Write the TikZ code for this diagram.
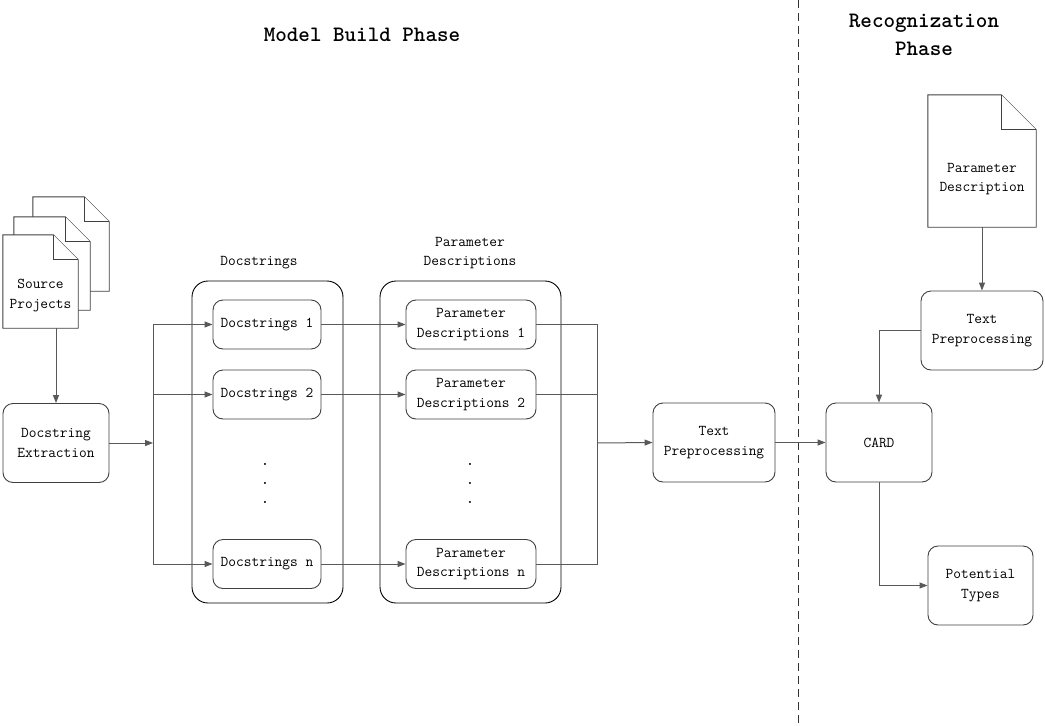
\documentclass[tikz,border=0pt]{standalone}
\usetikzlibrary{arrows.meta}
\definecolor{linec}{gray}{0.35}
\definecolor{boxc}{gray}{0.25}
\newcommand\bodyf{\fontsize{15}{19.5}\selectfont\ttfamily}
\newcommand\titlef{\fontsize{22}{28}\selectfont\ttfamily\bfseries}
\newcommand\mydoc[2]{%
  \draw[docline] (#1.south west) -- (#1.north west) -- ([xshift=-#2]#1.north east)
     -- ([yshift=-#2]#1.north east) -- (#1.south east) -- cycle;
  \draw[docline] ([xshift=-#2]#1.north east) -- ([xshift=-#2,yshift=-#2]#1.north east)
     -- ([yshift=-#2]#1.north east);}
\tikzset{
  box/.style={draw=boxc, line width=0.9pt, rounded corners=10pt, align=center,
    font=\bodyf, inner sep=0pt},
  docnode/.style={inner sep=0pt, align=center, font=\bodyf},
  docline/.style={draw=boxc, line width=0.9pt, fill=white},
  cont/.style={draw=black, line width=0.9pt, rounded corners=16pt, inner sep=0pt},
  lbl/.style={align=center, font=\bodyf, inner sep=0pt},
  conn/.style={draw=linec, line width=1pt},
  arr/.style={conn, -{Triangle[length=8pt,width=6pt]}},
}
\begin{document}
\begin{tikzpicture}[x=1pt,y=-1pt]
\useasboundingbox[fill=white] (0,0) rectangle (1045,726);

% titles
\node[font=\titlef] (t1) at (362,35) {Model Build Phase};
\node[font=\titlef, align=center] (t2) at (924,34.5) {Recognization\\Phase};

% dashed separator
\coordinate (dtop) at (798,0);
\coordinate (dbot) at (798,726);
\draw[draw=black!80, line width=0.9pt, dash pattern=on 8pt off 5pt] (dtop) -- (dbot);

% containers
\node[cont, minimum width=151, minimum height=322] (cd) at (267.5,442) {};
\node[cont, minimum width=181, minimum height=322] (cp) at (470.5,442) {};
\node[lbl] (cdl) at (259,263) {Docstrings};
\node[lbl] (cpl) at (470,253) {Parameter\\Descriptions};

% source projects (stack of documents)
\node[docnode, minimum width=76, minimum height=94] (src3) at (71,244) {};
\node[docnode, minimum width=76, minimum height=93] (src2) at (52,263.5) {};
\node[docnode, minimum width=75, minimum height=93] (src) at (40.5,281.5) {};
\mydoc{src3}{25}
\mydoc{src2}{25}
\mydoc{src}{25}
\node[lbl] (srct) at ([yshift=-14]src.center) {Source\\Projects};

% model build boxes
\node[box, minimum width=106, minimum height=79] (ext) at (56,443) {Docstring\\Extraction};
\node[box, minimum width=108, minimum height=49] (d1) at (267,324.5) {Docstrings 1};
\node[box, minimum width=108, minimum height=49] (d2) at (267,394.5) {Docstrings 2};
\node[box, minimum width=108, minimum height=49] (dn) at (267,564) {Docstrings n};
\node[box, minimum width=130, minimum height=49] (p1) at (471,324.5) {Parameter\\Descriptions 1};
\node[box, minimum width=130, minimum height=49] (p2) at (471,394.5) {Parameter\\Descriptions 2};
\node[box, minimum width=130, minimum height=49] (pn) at (471,564) {Parameter\\Descriptions n};
\node[lbl, font=\fontsize{15}{19}\selectfont\ttfamily\bfseries] (dd) at (265,483) {.\\.\\.};
\node[lbl, font=\fontsize{15}{19}\selectfont\ttfamily\bfseries] (pdd) at (470,483) {.\\.\\.};
\node[box, minimum width=122, minimum height=79] (tp) at (714,442.5) {Text\\Preprocessing};

% recognition boxes
\node[box, minimum width=106, minimum height=79] (card) at (879,442.5) {CARD};
\node[docnode, minimum width=108, minimum height=132] (pd) at (982,161) {};
\mydoc{pd}{35}
\node[lbl] (pdt) at ([yshift=-18]pd.center) {Parameter\\Description};
\node[box, minimum width=122, minimum height=79] (tp2) at (982,330.5) {Text\\Preprocessing};
\node[box, minimum width=105, minimum height=79] (pt) at (980.5,585.5) {Potential\\Types};

% connectors
\coordinate (split) at (153,443);
\coordinate (merge) at (597,443);
\draw[arr] (ext.north |- src.south) -- (ext.north);
\draw[arr] (ext.east) -- (split);
\draw[conn] (split |- d1.west) -- (split |- dn.west);
\draw[arr] (split |- d1.west) -- (d1.west);
\draw[arr] (split |- d2.west) -- (d2.west);
\draw[arr] (split |- dn.west) -- (dn.west);
\draw[arr] (d1.east) -- (p1.west);
\draw[arr] (d2.east) -- (p2.west);
\draw[arr] (dn.east) -- (pn.west);
\draw[conn] (p1.east) -- (merge |- p1.east) -- (merge |- pn.east) -- (pn.east);
\draw[conn] (p2.east) -- (merge |- p2.east);
\draw[arr] (merge) -- (tp.west);
\draw[arr] (tp.east) -- (card.west);
\draw[arr] (pd.south) -- (tp2.north);
\draw[arr] (tp2.west) -| (card.north);
\draw[arr] (card.south) |- (pt.west);
\end{tikzpicture}
\end{document}
